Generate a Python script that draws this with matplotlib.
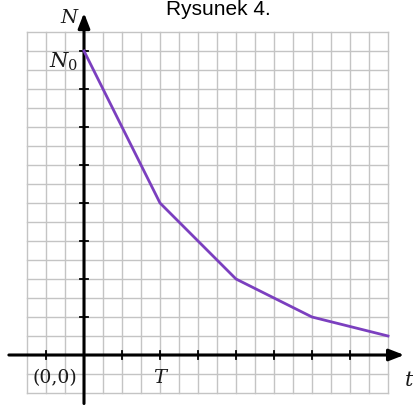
import matplotlib.pyplot as plt
import numpy as np

plt.rcParams['mathtext.fontset'] = 'dejavuserif'

# Decay curve: N halves every period T (T = 4 grid cells)
t_vals = [0, 4, 8, 12, 16]
n_vals = [16, 8, 4, 2, 1]
x_ticks = [-2, 2, 4, 6, 8, 10, 12, 14]
y_ticks = [2, 4, 6, 8, 10, 12, 14]

unit = 19.0  # pixels per grid cell
ox, oy = 84.0, 355.0  # origin in pixels
W, H = 413, 407

fig = plt.figure(figsize=(W / 100, H / 100), dpi=100)
ax = fig.add_axes([0, 0, 1, 1])
ax.set_xlim(-ox / unit, (W - ox) / unit)
ax.set_ylim(-(H - oy) / unit, oy / unit)
ax.axis('off')

# grid paper
gx0, gx1, gy0, gy1 = -3, 16, -2, 17
for gx in range(gx0, gx1 + 1):
    ax.plot([gx, gx], [gy0, gy1], color='#c4c4c4', lw=1.0, zorder=1)
for gy in range(gy0, gy1 + 1):
    ax.plot([gx0, gx1], [gy, gy], color='#c4c4c4', lw=1.0, zorder=1)

# axes with arrows
ax.annotate('', xy=(17.0, 0), xytext=(-4.1, 0),
            arrowprops=dict(arrowstyle='-|>,head_length=0.9,head_width=0.35',
                            color='black', lw=2.2), zorder=3)
ax.annotate('', xy=(0, 18.15), xytext=(0, -2.7),
            arrowprops=dict(arrowstyle='-|>,head_length=0.9,head_width=0.35',
                            color='black', lw=2.2), zorder=3)

for tx in x_ticks:
    ax.plot([tx, tx], [-0.22, 0.22], color='black', lw=1.3, zorder=3)
for ty in y_ticks + [16]:
    ax.plot([-0.22, 0.22], [ty, ty], color='black', lw=1.3, zorder=3)

# decay curve
ax.plot(t_vals, n_vals, color='#7b3fbf', lw=2.0, zorder=4, solid_joinstyle='round')

serif = dict(family='DejaVu Serif', style='italic', color='#1a1a1a')
ax.text(-0.8, 17.75, 'N', fontsize=14, ha='center', va='center', **serif)
ax.text(-1.1, 15.45, r'$N_0$', fontsize=15, ha='center', va='center', color='#1a1a1a')
ax.text(-1.55, -1.2, '(0,0)', fontsize=13.5, ha='center', va='center',
        family='DejaVu Serif', color='#1a1a1a')
ax.text(4.0, -1.2, 'T', fontsize=14, ha='center', va='center', **serif)
ax.text(17.1, -1.35, 't', fontsize=15, ha='center', va='center', **serif)

fig.text(218 / W, 1.0, 'Rysunek 4.', fontsize=15, ha='center', va='top',
         family='Liberation Sans', color='black')

fig.savefig('out.png', dpi=100)
